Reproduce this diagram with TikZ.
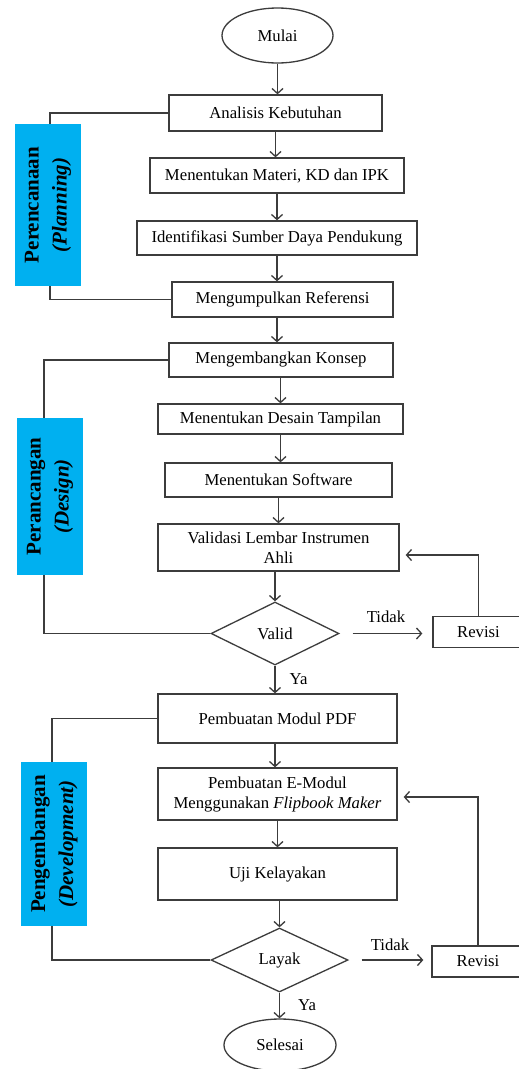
\documentclass[tikz,border=0pt]{standalone}
\usepackage{fontspec}
\setmainfont{Liberation Serif}
\usetikzlibrary{shapes.geometric}
\usetikzlibrary{arrows.meta}
\definecolor{phaseblue}{HTML}{00B0F0}
\definecolor{linegray}{HTML}{3C3C3C}
\tikzstyle{every picture}+=[x=1pt,y=-1pt]
\tikzstyle{box}=[draw=linegray,line width=1.3pt,rectangle,inner sep=0pt,align=center,font=\fontsize{16.7}{20}\selectfont]
\tikzstyle{term}=[draw=linegray,line width=1.3pt,ellipse,inner sep=0pt,font=\fontsize{16.7}{20}\selectfont]
\tikzstyle{decide}=[draw=linegray,line width=1.3pt,diamond,inner sep=0pt,font=\fontsize{16.7}{20}\selectfont]
\tikzstyle{phase}=[fill=phaseblue,inner sep=0pt,rotate=90,align=center,font=\fontsize{21}{28}\selectfont\bfseries]
\tikzstyle{arr}=[draw=linegray,line width=1.3pt,-{Straight Barb[length=5pt,width=11pt]}]
\tikzstyle{link}=[draw=linegray,line width=1.3pt,-]
\tikzstyle{lbl}=[inner sep=0pt,font=\fontsize{16.7}{20}\selectfont]

\begin{document}
\begin{tikzpicture}
	\useasboundingbox[fill=white] (0,0) rectangle (519,1069);
	\node[term,minimum width=111pt,minimum height=55pt] (mulai) at (277.5,35.5) {Mulai};
	\node[box,minimum width=213pt,minimum height=36pt] (analisis) at (275.5,113) {Analisis Kebutuhan};
	\node[box,minimum width=254pt,minimum height=35pt] (materi) at (277,175.5) {Menentukan Materi, KD dan IPK};
	\node[box,minimum width=280pt,minimum height=34pt] (sumber) at (277,238) {Identifikasi Sumber Daya Pendukung};
	\node[box,minimum width=221pt,minimum height=35pt] (referensi) at (282.5,299.5) {Mengumpulkan Referensi};
	\node[box,minimum width=224pt,minimum height=34pt] (konsep) at (281,360) {Mengembangkan Konsep};
	\node[box,minimum width=245pt,minimum height=30pt] (desain) at (280.5,419) {Menentukan Desain Tampilan};
	\node[box,minimum width=227pt,minimum height=34pt] (software) at (278.5,480) {Menentukan Software};
	\node[box,minimum width=241pt,minimum height=47pt] (validasi) at (278.5,547.5) {Validasi Lembar Instrumen\\Ahli};
	\node[decide,minimum width=128pt,minimum height=63pt] (valid) at (275,633.5) {Valid};
	\node[box,minimum width=91pt,minimum height=31pt] (revisiA) at (478.5,632) {Revisi};
	\node[box,minimum width=239pt,minimum height=49pt] (pdf) at (277.5,718.5) {Pembuatan Modul PDF};
	\node[box,minimum width=239pt,minimum height=52pt] (emodul) at (277.5,794) {Pembuatan E-Modul\\Menggunakan \textit{Flipbook Maker}};
	\node[box,minimum width=239pt,minimum height=52pt] (uji) at (277.5,874) {Uji Kelayakan};
	\node[decide,minimum width=137pt,minimum height=64pt] (layak) at (279.5,960) {Layak};
	\node[box,minimum width=92pt,minimum height=31pt] (revisiB) at (478,961.5) {Revisi};
	\node[term,minimum width=112pt,minimum height=52pt] (selesai) at (280,1045) {Selesai};
	\node[phase,minimum width=162pt,minimum height=66pt] (plan) at (48,205) {Perencanaan\\\textit{(Planning)}};
	\node[phase,minimum width=157pt,minimum height=66pt] (design) at (50,496.5) {Perancangan\\\textit{(Design)}};
	\node[phase,minimum width=164pt,minimum height=66pt] (dev) at (54,844) {Pengembangan\\\textit{(Development)}};
	\draw[arr] (mulai.south) -- (mulai.south |- analisis.north);
	\draw[arr] (analisis.south) -- (analisis.south |- materi.north);
	\draw[arr] (materi.south) -- (materi.south |- sumber.north);
	\draw[arr] (sumber.south) -- (sumber.south |- referensi.north);
	\draw[arr] (sumber.south |- referensi.south) -- (sumber.south |- konsep.north);
	\draw[arr] (desain.north |- konsep.south) -- (desain.north);
	\draw[arr] (desain.south) -- (desain.south |- software.north);
	\draw[arr] (software.south) -- (software.south |- validasi.north);
	\draw[arr] (valid.north |- validasi.south) -- (valid.north);
	\draw[arr] (valid.south) -- (valid.south |- pdf.north) node[lbl,midway,right=14pt]{Ya};
	\draw[arr,shorten <=13pt,shorten >=10pt] (valid.east) -- (valid.east -| revisiA.west) node[lbl,midway,above=10pt]{Tidak};
	\draw[arr,shorten >=6pt] (revisiA.north) |- ([yshift=-7.5pt]validasi.east);
	\draw[arr] (valid.south |- pdf.south) -- (valid.south |- emodul.north);
	\draw[arr] (emodul.south) -- (emodul.south |- uji.north);
	\draw[arr] (layak.north |- uji.south) -- (layak.north);
	\draw[arr] (layak.south) -- (layak.south |- selesai.north) node[lbl,midway,right=18pt]{Ya};
	\draw[arr,shorten <=13pt,shorten >=8pt] (layak.east) -- (layak.east -| revisiB.west) node[lbl,midway,above=9pt]{Tidak};
	\draw[arr,shorten >=6pt] (revisiB.north) |- ([yshift=-3pt]emodul.east);
	\draw[link] (analisis.west) -| ([xshift=2pt]plan.east);
	\draw[link] ([xshift=2pt]plan.west) |- (referensi.west);
	\draw[link] (konsep.west) -| ([xshift=-6pt]design.east);
	\draw[link] ([xshift=-6pt]design.west) |- (valid.west);
	\draw[link] (pdf.west) -| ([xshift=-2pt]dev.east);
	\draw[link] ([xshift=-2pt]dev.west) |- (layak.west);
\end{tikzpicture}
\end{document}
